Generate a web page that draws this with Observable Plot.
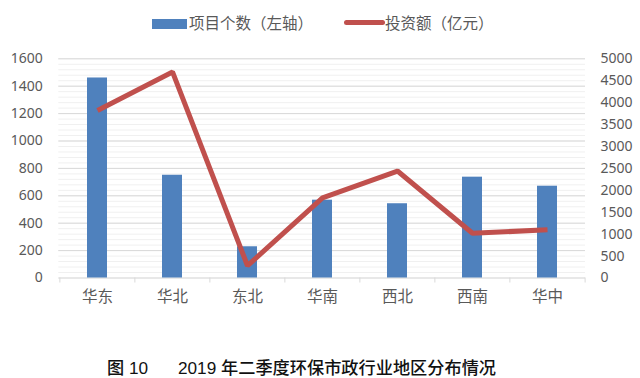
<!DOCTYPE html>
<html>
<head>
<meta charset="utf-8">
<script src="https://cdn.jsdelivr.net/npm/d3@7"></script>
<script src="https://cdn.jsdelivr.net/npm/@observablehq/plot@0.6"></script>
<style>
  html, body { margin: 0; padding: 0; background: #fff; }
  #wrap { position: relative; width: 640px; height: 378px; overflow: hidden; font-family: "Noto Sans CJK SC", "Noto Sans", sans-serif; }
  #chart { position: absolute; left: 0; top: 0; }
  .leg { position: absolute; top: 12px; font-size: 15.5px; color: #595959; line-height: 20px; white-space: nowrap; }
  .sw { position: absolute; }
  .cap { position: absolute; top: 358px; font-size: 17.2px; line-height: 20px; color: #111; font-weight: 500; white-space: nowrap; font-family: "Liberation Sans", "Noto Sans CJK SC", sans-serif; }
</style>
</head>
<body>
<div id="wrap">
  <div id="chart"></div>
  <div class="sw" style="left:152px;top:19px;width:35px;height:10px;background:#4f81bd"></div>
  <div class="leg" id="leg1" style="left:189px"></div>
  <div class="sw" style="left:344px;top:20px;width:41px;height:5px;background:#c0504d;border-radius:3px"></div>
  <div class="leg" id="leg2" style="left:385px"></div>
  <div class="cap" id="cap1" style="left:107px"></div>
  <div class="cap" id="cap2" style="left:178px"></div>
</div>
<script>
const regions = ["华东", "华北", "东北", "华南", "西北", "西南", "华中"];
const projectCounts = [1460, 750, 228, 568, 542, 736, 670];
const investment = [3820, 4700, 280, 1830, 2440, 1020, 1100];
const leftTicks = [0, 200, 400, 600, 800, 1000, 1200, 1400, 1600];
const rightTicks = [0, 500, 1000, 1500, 2000, 2500, 3000, 3500, 4000, 4500, 5000];
const minorTicks = d3.range(0, 1601, 40);
const seriesNames = ["项目个数（左轴）", "投资额（亿元）"];
const captionLabel = "图 10";
const captionText = "2019 年二季度环保市政行业地区分布情况";

const leftMax = 1600, rightMax = 5000;
const k = leftMax / rightMax;

const barData = regions.map((r, i) => ({region: r, count: projectCounts[i]}));
const lineData = regions.map((r, i) => ({region: r, inv: investment[i] * k}));

const W = 640, ML = 58.3, MR = 55;
const step = (W - ML - MR) / regions.length;

const tickData = regions.map((r, i) => ({region: r, dx: -step / 2}))
  .concat([{region: regions[regions.length - 1], dx: step / 2}]);

const plot = Plot.plot({
  width: W,
  height: 318,
  marginLeft: ML,
  marginRight: MR,
  marginTop: 58.3,
  marginBottom: 40.5,
  style: {fontFamily: "'Noto Sans', 'Noto Sans CJK SC', sans-serif", fontSize: "14px", color: "#595959", background: "transparent"},
  x: {domain: regions, type: "band", paddingInner: 0.73, paddingOuter: 0.365, label: null},
  y: {domain: [0, leftMax], label: null},
  marks: [
    Plot.ruleY(minorTicks, {stroke: "#f0f0f0", strokeWidth: 1}),
    Plot.ruleY(leftTicks.filter(d => d > 0), {stroke: "#d9d9d9", strokeWidth: 1}),
    Plot.ruleY([0], {stroke: "#d9d9d9", strokeWidth: 1}),
    Plot.ruleX(tickData, {x: "region", y1: 0, y2: 0, insetBottom: -5, stroke: "#d9d9d9"}),
    Plot.barY(barData, {x: "region", y: "count", fill: "#4f81bd"}),
    Plot.line(lineData, {x: "region", y: "inv", stroke: "#c0504d", strokeWidth: 5, strokeLinejoin: "miter", strokeLinecap: "butt"}),
    Plot.axisY(leftTicks, {anchor: "left", tickSize: 0, tickPadding: 16, fontSize: 14, fill: "#595959", tickFormat: d => String(d), label: null}),
    Plot.axisY(rightTicks.map(v => v * k), {anchor: "right", tickSize: 0, tickPadding: 15, fontSize: 14, fill: "#595959", tickFormat: d => String(Math.round(d / k)), label: null}),
    Plot.axisX({tickSize: 0, tickPadding: 13, fontSize: 15.5, fill: "#595959", fontFamily: "'Noto Sans CJK SC', sans-serif", label: null})
  ]
});
document.getElementById("chart").appendChild(plot);

// position boundary ticks at band edges
const ruleGroups = plot.querySelectorAll("g[aria-label='rule']");
const tickGroup = ruleGroups[ruleGroups.length - 1];
if (tickGroup) {
  tickGroup.querySelectorAll("line").forEach((ln, i) => {
    const dx = tickData[i] ? tickData[i].dx : 0;
    const x = +ln.getAttribute("x1") + dx;
    ln.setAttribute("x1", x);
    ln.setAttribute("x2", x);
  });
}

document.getElementById("leg1").textContent = seriesNames[0];
document.getElementById("leg2").textContent = seriesNames[1];
document.getElementById("cap1").textContent = captionLabel;
document.getElementById("cap2").textContent = captionText;
</script>
</body>
</html>
